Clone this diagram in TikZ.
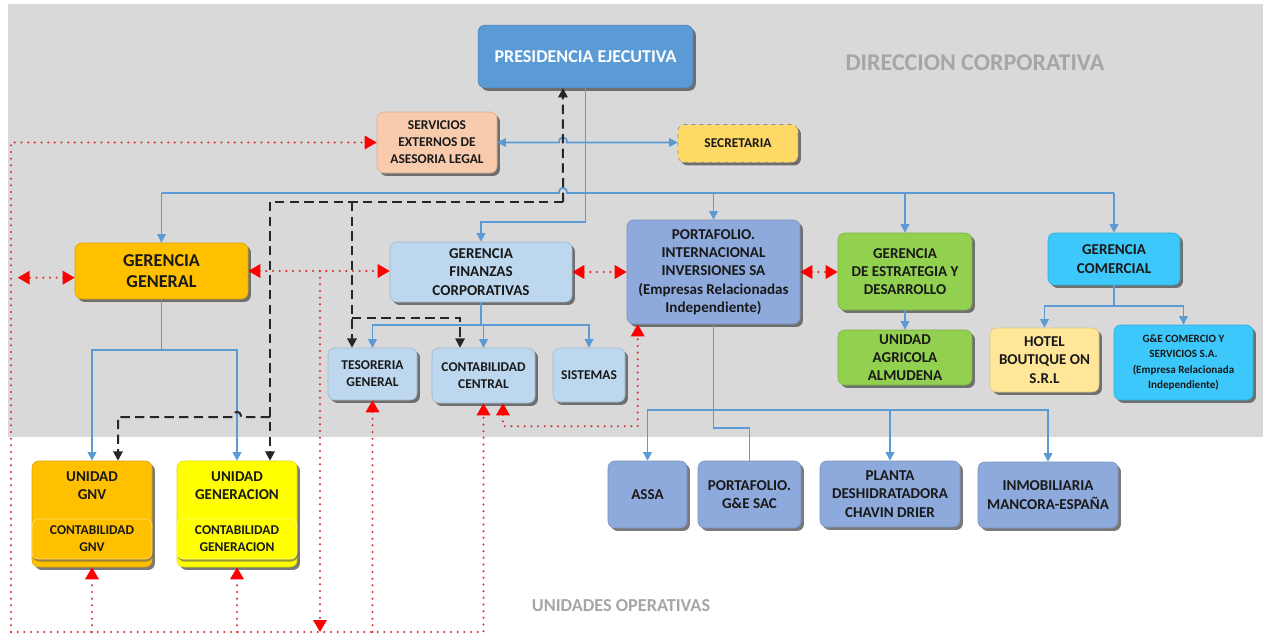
\documentclass[tikz,border=0pt]{standalone}
\usepackage{fontspec}
\setmainfont{Carlito}
\usetikzlibrary{arrows.meta,shadows}

\definecolor{bgray}{RGB}{217,217,217}
\definecolor{lblgray}{RGB}{166,166,166}
\definecolor{presblue}{RGB}{91,155,213}
\definecolor{peach}{RGB}{248,203,173}
\definecolor{secyellow}{RGB}{255,217,102}
\definecolor{amber}{RGB}{255,192,0}
\definecolor{paleblue}{RGB}{189,215,238}
\definecolor{lavblue}{RGB}{142,169,219}
\definecolor{leafgreen}{RGB}{146,208,80}
\definecolor{skyblue}{RGB}{60,200,250}
\definecolor{cream}{RGB}{255,230,153}
\definecolor{brightyellow}{RGB}{255,255,0}
\definecolor{dotred}{RGB}{215,45,45}

\newcommand\fontPres{\fontsize{13.5}{16}\selectfont\bfseries}
\newcommand\fontBig{\fontsize{13.6}{15.5}\selectfont\bfseries}
\newcommand\fontMid{\fontsize{11.3}{13.7}\selectfont\bfseries}
\newcommand\fontSml{\fontsize{10.1}{12.8}\selectfont\bfseries}
\newcommand\fontTiny{\fontsize{8.3}{11.5}\selectfont\bfseries}

\tikzset{
  box/.style={rounded corners=5pt, align=center, text=black!90, inner sep=1pt,
    draw=#1!85!black, line width=0.4pt, fill=#1,
    drop shadow={shadow xshift=2.2pt, shadow yshift=-2.2pt, fill=black!70, opacity=0.75}},
  inbox/.style={rounded corners=5pt, align=center, text=black!90, inner sep=1pt,
    draw=white!45!#1, line width=0.5pt, fill=#1,
    drop shadow={shadow xshift=0.6pt, shadow yshift=-2pt, fill=black!65, opacity=0.6}},
  bt/.tip={Triangle[length=6.5pt,width=6.5pt]},
  kt/.tip={Triangle[length=7pt,width=7pt]},
  rt/.tip={Triangle[length=9pt,width=10pt,color=red]},
  bluelink/.style={draw=presblue, line width=1.3pt},
  blacklink/.style={draw=black!85, line width=1.5pt, dash pattern=on 7pt off 4pt},
  redlink/.style={draw=dotred, line width=1.7pt, line cap=round, dash pattern=on 0pt off 5pt}
}

\begin{document}
\begin{tikzpicture}[x=0.75pt,y=-0.75pt]
\useasboundingbox (0,0) rectangle (1263,639);
\fill[bgray] (8,4) rectangle (1263,437);
\node (dirlbl) [text=lblgray, font=\fontsize{18}{20}\selectfont\bfseries] at (975,63) {DIRECCION CORPORATIVA};
\node (unilbl) [text=lblgray, font=\fontsize{13.7}{15}\selectfont\bfseries] at (621,606) {UNIDADES OPERATIVAS};

\node (pres) [box=presblue, text=white, font=\fontPres, minimum width=161pt, minimum height=47pt] at (585.5,56.5) {PRESIDENCIA EJECUTIVA};
\node (serv) [box=peach, font=\fontSml, minimum width=90pt, minimum height=45.75pt] at (437,142.5) {SERVICIOS\\EXTERNOS DE\\ASESORIA LEGAL};
\node (secr) [box=secyellow, draw=black!45, dashed, font=\fontSml, minimum width=90pt, minimum height=28.5pt] at (738,143.5) {SECRETARIA};

\node (gg) [box=amber, font=\fontBig, minimum width=129.75pt, minimum height=42pt] at (161.5,271) {GERENCIA\\GENERAL};
\node (fin) [box=paleblue, font=\fontMid, minimum width=136.5pt, minimum height=45pt] at (481,272) {GERENCIA\\FINANZAS\\CORPORATIVAS};
\node (port) [box=lavblue, font=\fontMid, minimum width=129.75pt, minimum height=78pt] at (713.5,272) {PORTAFOLIO.\\INTERNACIONAL\\INVERSIONES SA\\(Empresas Relacionadas\\Independiente)};
\node (estr) [box=leafgreen, font=\fontMid, minimum width=100.5pt, minimum height=57.75pt] at (905,271.5) {GERENCIA\\DE ESTRATEGIA Y\\DESARROLLO};
\node (agr) [box=leafgreen, font=\fontMid, minimum width=100.5pt, minimum height=41.25pt] at (905,357.5) {UNIDAD\\AGRICOLA\\ALMUDENA};
\node (com) [box=skyblue, font=\fontMid, minimum width=99pt, minimum height=39pt] at (1114,259) {GERENCIA\\COMERCIAL};
\node (hotel) [box=cream, font=\fontMid, minimum width=81.75pt, minimum height=48pt] at (1044.5,360) {HOTEL\\BOUTIQUE ON\\S.R.L};
\node (ge) [box=skyblue, font=\fontTiny, minimum width=104.25pt, minimum height=56.25pt] at (1183.5,362.5) {G\&E COMERCIO Y\\SERVICIOS S.A.\\(Empresa Relacionada\\Independiente)};

\node (tes) [box=paleblue, font=\fontSml, minimum width=66.75pt, minimum height=39pt] at (372.5,374) {TESORERIA\\GENERAL};
\node (contc) [box=paleblue, font=\fontSml, minimum width=77.25pt, minimum height=41.25pt] at (483.5,375.5) {CONTABILIDAD\\CENTRAL};
\node (sis) [box=paleblue, font=\fontSml, minimum width=54pt, minimum height=40.5pt] at (589,375) {SISTEMAS};

\node (gnv) [box=amber, minimum width=90pt, minimum height=79.5pt] at (92,514) {};
\node (gnvname) [font=\fontMid, align=center, text=black!90] at (92,486) {UNIDAD\\GNV};
\node (gnvc) [inbox=amber, font=\fontSml, minimum width=90pt, minimum height=30pt] at (92,539) {CONTABILIDAD\\GNV};
\node (gen) [box=brightyellow, minimum width=90pt, minimum height=79.5pt] at (237,514) {};
\node (genname) [font=\fontMid, align=center, text=black!90] at (237,486) {UNIDAD\\GENERACION};
\node (genc) [inbox=brightyellow, font=\fontSml, minimum width=90pt, minimum height=30pt] at (237,539) {CONTABILIDAD\\GENERACION};

\node (assa) [box=lavblue, font=\fontMid, minimum width=59.25pt, minimum height=50.25pt] at (647.5,494.5) {ASSA};
\node (gesac) [box=lavblue, font=\fontMid, minimum width=77.25pt, minimum height=50.25pt] at (749.5,494.5) {PORTAFOLIO.\\G\&E SAC};
\node (planta) [box=lavblue, font=\fontMid, minimum width=105pt, minimum height=49.5pt] at (890,494) {PLANTA\\DESHIDRATADORA\\CHAVIN DRIER};
\node (inmob) [box=lavblue, font=\fontMid, minimum width=105pt, minimum height=49.5pt] at (1048,495) {INMOBILIARIA\\MANCORA-ESPAÑA};

\coordinate (hub) at (585.5,193);
\coordinate (fork) at (585.5,222);
\coordinate (dtop) at (563,202);
\coordinate (x1) at (dtop |- hub);
\coordinate (x2) at (dtop |- serv.east);
\draw[bluelink,-bt] (pres.south) -- (fork) -| (fin.north);
\draw[bluelink] (gg.north |- hub) -- ([xshift=-3pt]x1) .. controls +(0,-7) and +(0,-7) .. ([xshift=3pt]x1) -- (com.north |- hub);
\foreach \n in {gg,port,estr,com}
  \draw[bluelink,-bt] (\n.north |- hub) -- (\n.north);
\draw[bluelink,bt-bt] (serv.east) -- ([xshift=-3pt]x2) .. controls +(0,-7) and +(0,-7) .. ([xshift=3pt]x2) -- (x2 -| secr.west);

\coordinate (ggb) at (gg.south |- 0,350);
\draw[bluelink] (gg.south) -- (ggb);
\draw[bluelink,-bt] (ggb) -| (gnv.north);
\draw[bluelink,-bt] (ggb) -| (gen.north);
\coordinate (finb) at (fin.south |- 0,325);
\draw[bluelink] (fin.south) -- (finb);
\foreach \n in {tes,contc,sis}
  \draw[bluelink,-bt] (finb) -| (\n.north);
\draw[bluelink,-bt] (estr.south) -- (agr.north);
\coordinate (comb) at (com.south |- 0,306);
\draw[bluelink] (com.south) -- (comb);
\draw[bluelink,-bt] (comb) -| (hotel.north);
\draw[bluelink,-bt] (comb) -| (ge.north);
\coordinate (portb) at (port.south |- 0,410);
\draw[bluelink] (port.south) -- (portb) -- ++(0,18) -| (gesac.north);
\foreach \n in {assa,planta,inmob}
  \draw[bluelink,-bt] (portb) -| (\n.north);

\coordinate (dleft) at (270,202);
\coordinate (dmid) at (352,202);
\coordinate (dfin) at (352,318);
\coordinate (dgnv) at (270,417);
\coordinate (x3) at (gen.north |- dgnv);
\draw[blacklink,-kt] (dtop) -- ([xshift=-16.9pt]pres.south);
\draw[blacklink] (dtop) -- (dleft);
\draw[blacklink,-kt] (dleft) -- ([xshift=24.75pt]gen.north);
\draw[blacklink,-kt] (dmid) -- (dmid |- tes.north);
\draw[blacklink,-kt] (dfin) -| ([xshift=-17.6pt]contc.north);
\draw[blacklink,-kt] (dgnv) -- ([xshift=3pt]x3) .. controls +(0,-7) and +(0,-7) .. ([xshift=-3pt]x3) -| ([xshift=19.5pt]gnv.north);

\coordinate (lb) at (11,632);
\coordinate (rb) at (contc.south |- lb);
\coordinate (ggf) at (320,271);
\draw[redlink,-rt] (lb) |- (serv.west);
\draw[redlink,-rt] (lb) -- (rb) -- (contc.south);
\foreach \n in {gnv,gen,tes}
  \draw[redlink,-rt] (\n.south |- lb) -- (\n.south);
\draw[redlink,rt-rt] (gg.east) -- (fin.west |- gg.east);
\draw[redlink,-rt] (ggf) -- (ggf |- lb);
\draw[redlink,rt-rt] ([yshift=-5pt]gg.west) -- ++(-57,0);
\draw[redlink,rt-rt] (fin.east) -- (port.west |- fin.east);
\draw[redlink,rt-rt] (port.east) -- (estr.west |- port.east);
\draw[redlink,rt-rt] ([xshift=14.6pt]contc.south) -- ++(0,23) -| ([xshift=8.25pt]port.south west);
\end{tikzpicture}
\end{document}
